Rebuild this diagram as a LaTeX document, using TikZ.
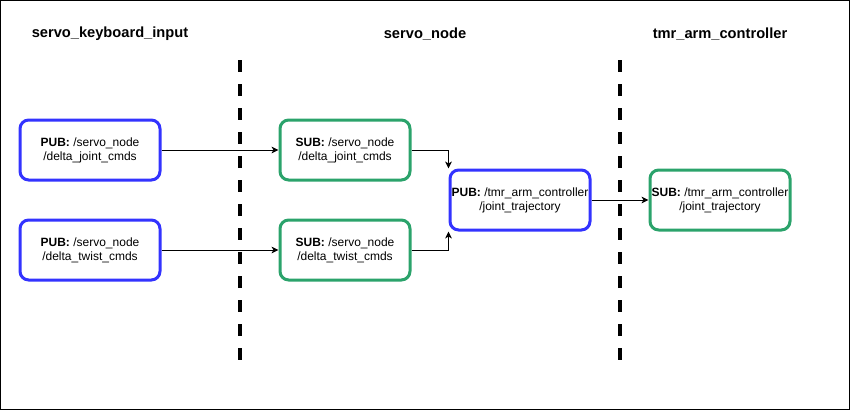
\documentclass[tikz,border=0pt]{standalone}
\usepackage{fontspec}
\setmainfont{Liberation Sans}
\usetikzlibrary{arrows.meta}
\definecolor{pubblue}{RGB}{51,51,255}
\definecolor{subgreen}{RGB}{43,163,107}
\tikzset{
  pubbox/.style={draw=pubblue, line width=2.25pt, rounded corners=6.5pt, fill=white,
    minimum width=105pt, minimum height=45pt, inner sep=1pt, align=center,
    font=\fontsize{9}{10.5}\selectfont},
  subbox/.style={pubbox, draw=subgreen},
  title/.style={font=\bfseries\fontsize{11}{13}\selectfont},
  sepline/.style={line width=3pt, dash pattern=on 9pt off 9pt},
  link/.style={line width=0.75pt, -{Stealth[length=5.25pt,width=5pt,inset=1.5pt]}}
}
\begin{document}
\begin{tikzpicture}[x=0.75pt,y=0.75pt,yscale=-1,xscale=1]
\useasboundingbox (0,0) rectangle (851,411);

%Frame
\draw [line width=0.75pt] (0.5,0.5) rectangle (849.5,409.5);

%Titles
\node [title] (tKeyboard) at (110,34) {servo\_keyboard\_input};
\node [title] (tServo) at (425,34) {servo\_node};
\node [title] (tArm) at (720,34) {tmr\_arm\_controller};

%Dashed separators
\draw [sepline] (240,60) -- (240,360);
\draw [sepline] (620,60) -- (620,360);

%Publishers and subscribers
\node [pubbox] (pubJoint) at (90,150) {\textbf{PUB:} /servo\_node\\/delta\_joint\_cmds};
\node [pubbox] (pubTwist) at (90,250) {\textbf{PUB:} /servo\_node\\/delta\_twist\_cmds};
\node [subbox, minimum width=97.5pt] (subJoint) at (345,150) {\textbf{SUB:} /servo\_node\\/delta\_joint\_cmds};
\node [subbox, minimum width=97.5pt] (subTwist) at (345,250) {\textbf{SUB:} /servo\_node\\/delta\_twist\_cmds};
\node [pubbox] (pubTraj) at (520,200) {\textbf{PUB:} /tmr\_arm\_controller\\/joint\_trajectory};
\node [subbox] (subTraj) at (720,200) {\textbf{SUB:} /tmr\_arm\_controller\\/joint\_trajectory};

%Links
\draw [link] (pubJoint) -- (subJoint);
\draw [link] (pubTwist) -- (subTwist);
\draw [link] (subJoint) -| (pubTraj.north west);
\draw [link] (subTwist) -| (pubTraj.south west);
\draw [link] (pubTraj) -- (subTraj);
\end{tikzpicture}
\end{document}
